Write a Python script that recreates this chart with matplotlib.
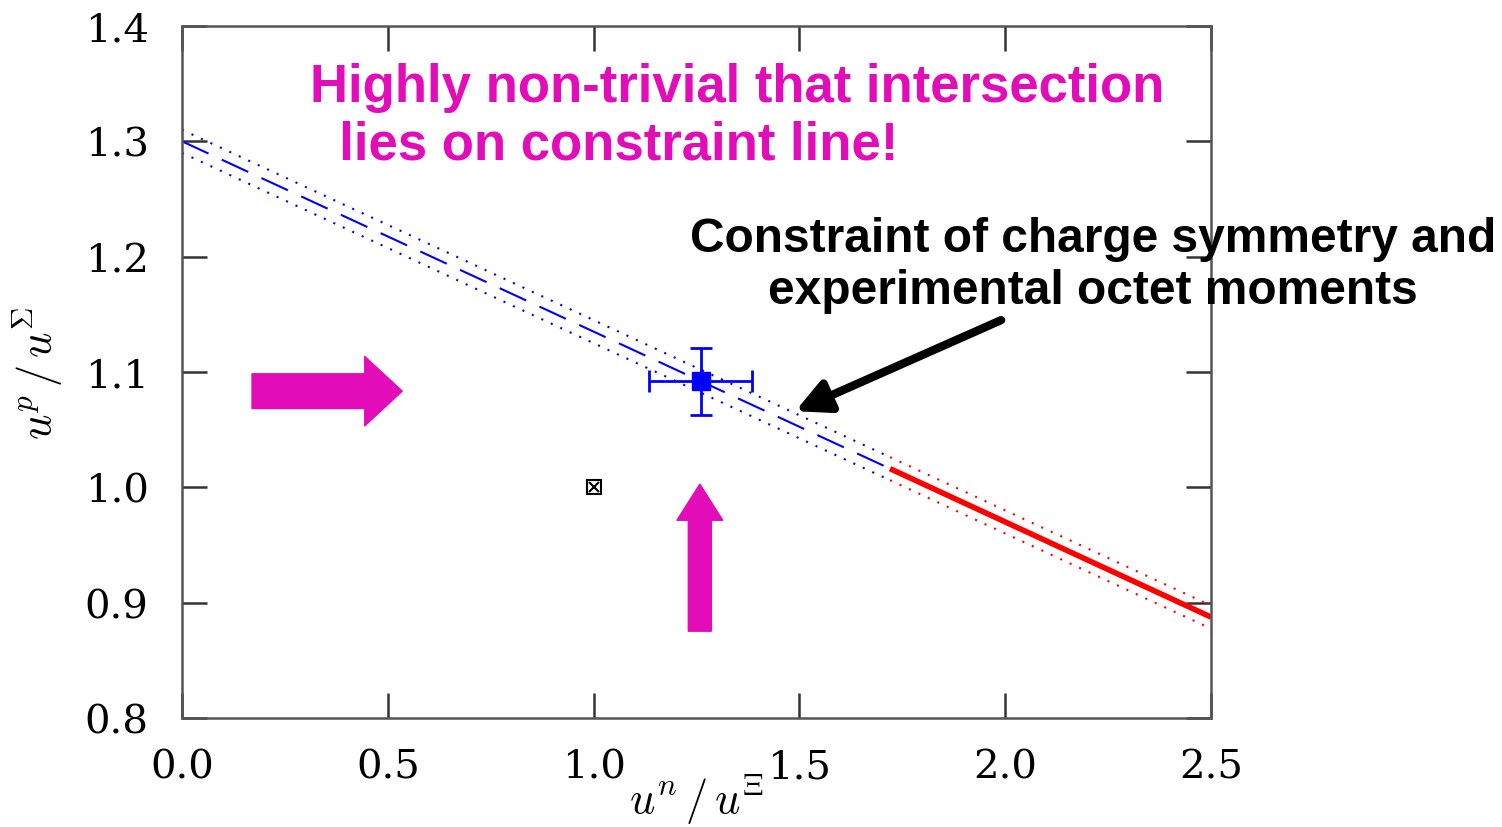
import numpy as np
import matplotlib
matplotlib.use("Agg")
import matplotlib.pyplot as plt

# constraint line u^p/u^Sigma = a + b * u^n/u^Xi
line_a = 1.300
line_b = -0.165
band = 0.010
x_lattice = [0.0, 1.72]      # blue: lattice extrapolation region
x_expt = [1.72, 2.5]         # red: experimental region

# intersection point with error bars
pt_x, pt_y = 1.26, 1.092
pt_xerr, pt_yerr = 0.125, 0.029

# reference point (SU(3) limit)
ref_x, ref_y = 1.0, 1.0

xticks = [0.0, 0.5, 1.0, 1.5, 2.0, 2.5]
yticks = [0.8, 0.9, 1.0, 1.1, 1.2, 1.3, 1.4]

plt.rcParams["font.family"] = ["DejaVu Serif"]
plt.rcParams["mathtext.fontset"] = "cm"
magenta = "#e20cb9"

fig = plt.figure(figsize=(15.02, 8.28), dpi=100)
ax = fig.add_axes([0.1212, 0.1316, 0.6851, 0.8358])

xb = np.linspace(*x_lattice, 50)
ax.plot(xb, line_a + line_b * xb, color="blue", lw=1.5, dashes=(14, 7))
ax.plot(xb, line_a + line_b * xb + band, color="blue", lw=1.5, ls=(0, (1, 4)))
ax.plot(xb, line_a + line_b * xb - band, color="blue", lw=1.5, ls=(0, (1, 4)))

xr = np.linspace(*x_expt, 50)
ax.plot(xr, line_a + line_b * xr, color="red", lw=4, solid_capstyle="butt")
ax.plot(xr, line_a + line_b * xr + band, color="red", lw=1.5, ls=(0, (1, 4)))
ax.plot(xr, line_a + line_b * xr - band, color="red", lw=1.5, ls=(0, (1, 4)))

ax.errorbar(pt_x, pt_y, xerr=pt_xerr, yerr=pt_yerr, fmt="s", color="blue",
            ms=13, elinewidth=2, capsize=8, capthick=2)
ax.plot(ref_x, ref_y, "s", ms=10, mfc="white", mec="black", mew=1.5)
ax.plot(ref_x, ref_y, "x", ms=7, color="black", mew=1.5)

ax.set_xlim(0, 2.5)
ax.set_ylim(0.8, 1.4)
ax.set_xticks(xticks, [f"{v:.1f}" for v in xticks])
ax.set_yticks(yticks, [f"{v:.1f}" for v in yticks])
ax.tick_params(direction="in", length=18, width=1.8, top=True, right=True,
               labelsize=29, color="#333333")
ax.tick_params(axis="x", pad=22)
ax.tick_params(axis="y", pad=24)
for s in ax.spines.values():
    s.set_linewidth(1.8)
    s.set_color("#555555")

ax.set_xlabel(r"$u^n\,/\,u^{\Xi}$", fontsize=32, labelpad=-9)
ax.set_ylabel(r"$u^p\,/\,u^{\Sigma}$", fontsize=32, labelpad=14)

# annotations
fig.text(310 / 1502, 1 - 117 / 828,
         "Highly non-trivial that intersection\n  lies on constraint line!",
         color=magenta, fontsize=38, fontweight="bold", family="Liberation Sans",
         va="center", ha="left", linespacing=1.2)
fig.text(1093 / 1502, 1 - 265 / 828,
         "Constraint of charge symmetry and\nexperimental octet moments",
         color="black", fontsize=34.5, fontweight="bold", family="Liberation Sans",
         va="center", ha="center", linespacing=1.2)

ax.annotate("", xy=(1.49, 1.066), xytext=(1.99, 1.145),
            arrowprops=dict(arrowstyle="-|>,head_length=1.0,head_width=0.5",
                            lw=6, color="black", mutation_scale=20,
                            shrinkA=0, shrinkB=0))
ax.annotate("", xy=(0.535, 1.0834), xytext=(0.17, 1.0834),
            arrowprops=dict(arrowstyle="simple,head_length=1.35,head_width=2.5,tail_width=1.25",
                            color=magenta, mutation_scale=20, shrinkA=0, shrinkB=0))
ax.annotate("", xy=(1.258, 1.0028), xytext=(1.258, 0.8753),
            arrowprops=dict(arrowstyle="simple,head_length=1.3,head_width=1.65,tail_width=0.83",
                            color=magenta, mutation_scale=20, shrinkA=0, shrinkB=0))

fig.savefig("out.png", dpi=100)
